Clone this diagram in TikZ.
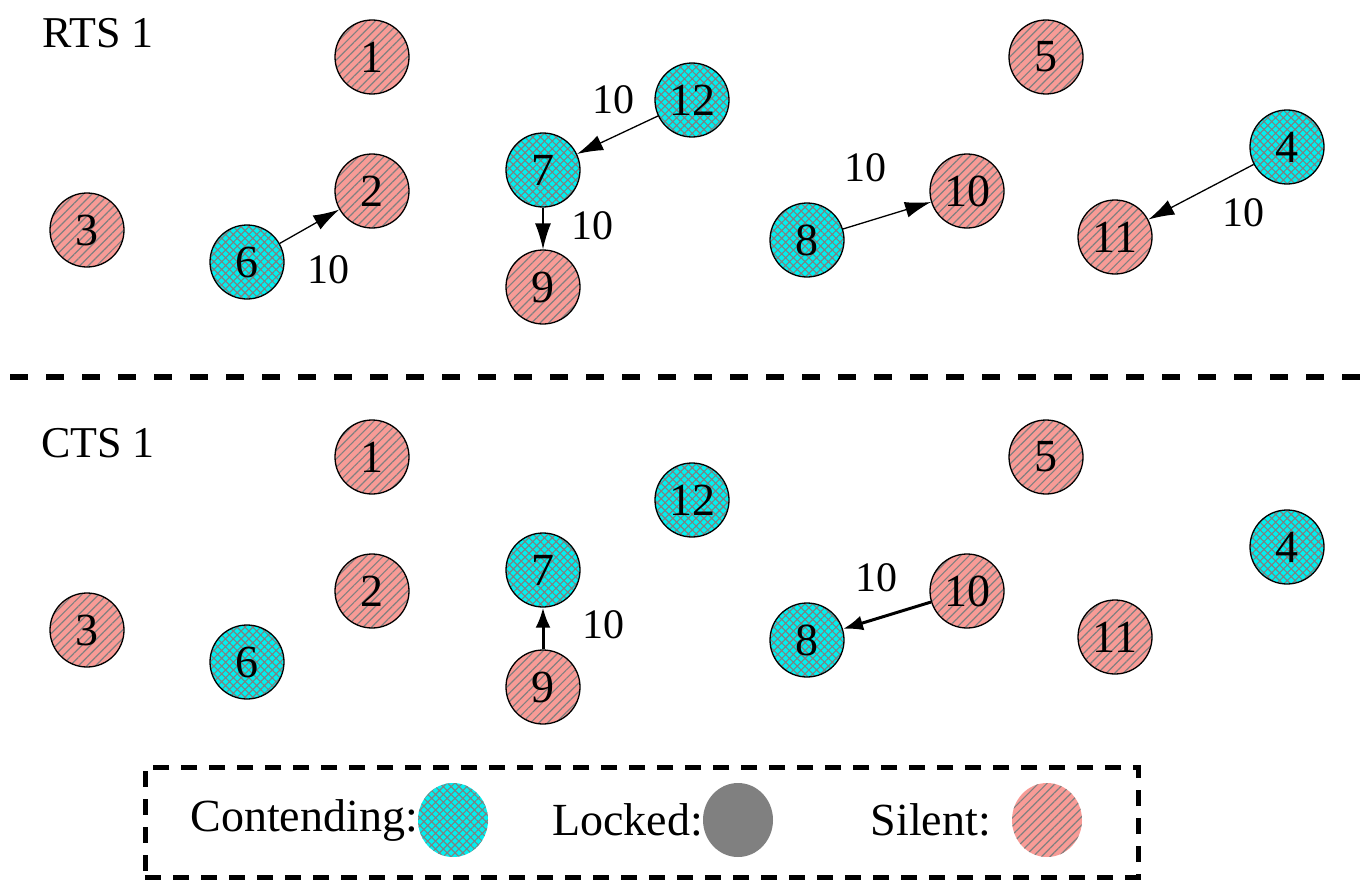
\documentclass[tikz,border=0pt]{standalone}
\usepackage{fontspec}
\setmainfont{Liberation Serif}
\usetikzlibrary{arrows.meta, patterns.meta, shapes.geometric}

\definecolor{contendcol}{RGB}{0,240,240}
\definecolor{silentcol}{RGB}{248,155,150}
\definecolor{lockedcol}{RGB}{128,128,128}

\begin{document}
\begin{tikzpicture}[
    x=1pt, y=-1pt,
    contending/.style={circle, draw=black, line width=1.3pt, minimum size=74pt, inner sep=0pt, preaction={fill=contendcol}, pattern={Hatch[angle=45, distance=5.5pt, line width=1.1pt]}, pattern color=black!50, font=\fontsize{46}{46}\selectfont},
    silent/.style={circle, draw=black, line width=1.3pt, minimum size=74pt, inner sep=0pt, preaction={fill=silentcol}, pattern={Lines[angle=45, distance=6pt, line width=1.2pt]}, pattern color=black!50, font=\fontsize{46}{46}\selectfont},
    lbl/.style={font=\fontsize{42}{42}\selectfont, inner sep=0pt},
    title/.style={font=\fontsize{44}{44}\selectfont, inner sep=0pt},
    arrow/.style={-{Latex[length=26pt, width=16pt]}, line width=1.3pt},
    thickarrow/.style={-{Latex[length=20pt, width=15pt]}, line width=3pt},
    sepline/.style={line width=6pt, dash pattern=on 18pt off 18pt},
    legendbox/.style={draw, line width=5pt, dash pattern=on 16pt off 12pt, minimum width=993pt, minimum height=110pt, inner sep=0pt},
    legendtxt/.style={font=\fontsize{46}{46}\selectfont, inner sep=0pt, anchor=east},
    legenddot/.style={ellipse, minimum width=70pt, minimum height=74pt, inner sep=0pt}
]
\useasboundingbox (0,0) rectangle (1364,880);

% RTS 1
\node[title] (rts) at (98,33) {RTS 1};
\node[silent] (a1) at (372,57) {1};
\node[silent] (a5) at (1046,57) {5};
\node[contending] (a12) at (692,100) {12};
\node[contending] (a7) at (543,170) {7};
\node[contending] (a4) at (1287,147) {4};
\node[silent] (a2) at (372,191) {2};
\node[silent] (a10) at (967,191) {10};
\node[silent] (a3) at (87,230) {3};
\node[contending] (a6) at (247,262) {6};
\node[contending] (a8) at (807,240) {8};
\node[silent] (a11) at (1115,237) {11};
\node[silent] (a9) at (543,287) {9};

\draw[arrow] (a6) -- (a2);
\draw[arrow] (a12) -- (a7);
\draw[arrow] (a7) -- (a9);
\draw[arrow] (a8) -- (a10);
\draw[arrow] (a4) -- (a11);

\node[lbl] (la1) at (328,270) {10};
\node[lbl] (la2) at (613,100) {10};
\node[lbl] (la3) at (592,226) {10};
\node[lbl] (la4) at (865,168) {10};
\node[lbl] (la5) at (1243,213) {10};

% separator
\coordinate (sepL) at (10,377);
\coordinate (sepR) at (1364,377);
\draw[sepline] (sepL) -- (sepR);

% CTS 1
\node[title] (cts) at (98,443) {CTS 1};
\node[silent] (b1) at (372,457) {1};
\node[silent] (b5) at (1046,457) {5};
\node[contending] (b12) at (692,500) {12};
\node[contending] (b7) at (543,570) {7};
\node[contending] (b4) at (1287,547) {4};
\node[silent] (b2) at (372,591) {2};
\node[silent] (b10) at (967,591) {10};
\node[silent] (b3) at (87,630) {3};
\node[contending] (b6) at (247,662) {6};
\node[contending] (b8) at (807,640) {8};
\node[silent] (b11) at (1115,637) {11};
\node[silent] (b9) at (543,687) {9};

\draw[thickarrow] (b9) -- (b7);
\draw[thickarrow] (b10) -- (b8);

\node[lbl] (lb1) at (603,625) {10};
\node[lbl] (lb2) at (876,578) {10};

% legend
\node[legendbox] (legend) at (641.5,822) {};
\node[legendtxt] (tcont) at (418,820) {Contending:};
\node[legenddot, preaction={fill=contendcol}, pattern={Hatch[angle=45, distance=5.5pt, line width=1.1pt]}, pattern color=black!50] (dcont) at (453,820) {};
\node[legendtxt] (tlock) at (703,820) {Locked:};
\node[legenddot, fill=lockedcol] (dlock) at (738,820) {};
\node[legendtxt] (tsil) at (991,820) {Silent:};
\node[legenddot, preaction={fill=silentcol}, pattern={Lines[angle=45, distance=6pt, line width=1.2pt]}, pattern color=black!50] (dsil) at (1047,820) {};

\end{tikzpicture}
\end{document}
